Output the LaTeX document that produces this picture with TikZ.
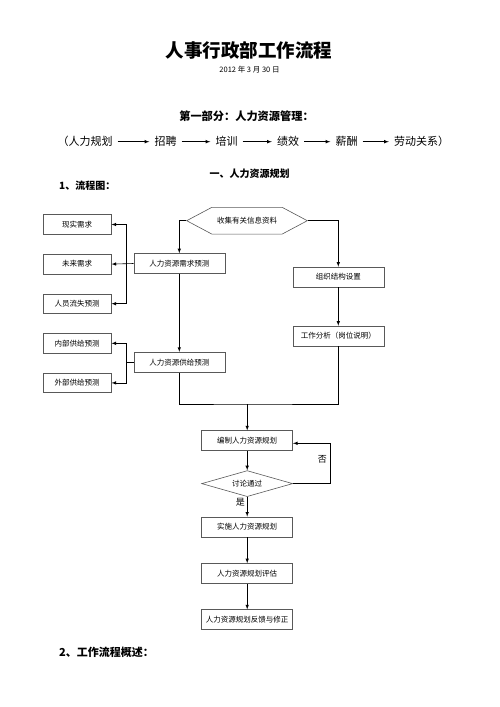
\documentclass[tikz,border=0pt]{standalone}
\usepackage{fontspec}
\setmainfont{Noto Sans CJK SC}
\usetikzlibrary{shapes.geometric, shapes.symbols, arrows, calc, positioning}
\tikzstyle{block} = [rectangle, draw=black!65, line width=0.6pt, minimum width=91pt, minimum height=20pt, inner sep=0pt, text centered, font=\fontsize{7.5}{9}\selectfont]
\tikzstyle{side} = [block, minimum width=68pt, minimum height=19.5pt]
\tikzstyle{decision} = [diamond, draw=black!65, line width=0.6pt, aspect=3.5, minimum width=91pt, minimum height=26pt, inner sep=0pt, font=\fontsize{7.5}{9}\selectfont]
\tikzstyle{start} = [signal, signal to=west and east, signal pointer angle=56, draw=black!65, line width=0.6pt, minimum width=120.6pt, minimum height=26.7pt, inner sep=0pt, font=\fontsize{7.5}{9}\selectfont]
\tikzstyle{stage} = [inner xsep=5pt, inner ysep=2pt, font=\fontsize{11}{13}\selectfont]
\tikzstyle{arrow} = [line width=0.6pt,->,>=latex]
\tikzstyle{line} = [line width=0.6pt]
\begin{document}
\begin{tikzpicture}[x=1pt, y=-1pt, node distance = 20pt, auto]
	\useasboundingbox (0,0) rectangle (500,707);
	% heading
	\node (Title) at (249,50) {\fontsize{18.5}{20}\selectfont\bfseries 人事行政部工作流程};
	\node (Date) at (249.5,69.3) {\fontsize{7.5}{9}\selectfont 2012 年 3 月 30 日};
	\node (Part) at (246.5,116) {\fontsize{11.2}{13}\selectfont\bfseries 第一部分：人力资源管理：};
	\node (Planning) [stage] at (85,141.7) {（人力规划};
	\node (Recruit) [stage] at (165.5,141.7) {招聘};
	\node (Training) [stage] at (226.5,141.7) {培训};
	\node (Perform) [stage] at (288,141.7) {绩效};
	\node (Salary) [stage] at (346.5,141.7) {薪酬};
	\node (Labor) [stage] at (421.5,141.7) {劳动关系）};
	\draw [arrow] (Planning) -- (Recruit);
	\draw [arrow] (Recruit) -- (Training);
	\draw [arrow] (Training) -- (Perform);
	\draw [arrow] (Perform) -- (Salary);
	\draw [arrow] (Salary) -- (Labor);
	\node (Section) at (249.5,174) {\fontsize{10}{12}\selectfont\bfseries 一、人力资源规划};
	\node (Chart) [anchor=west, inner sep=0pt] at (59,186) {\fontsize{10}{12}\selectfont\bfseries 1、流程图：};
	% flow chart
	\node (Collect) [start] at (247,220.7) {收集有关信息资料};
	\node (Demand) [block] at (179.3,263.5) {人力资源需求预测};
	\node (Supply) [block] at (179.3,362.2) {人力资源供给预测};
	\node (Structure) [block] at (338.3,277) {组织结构设置};
	\node (Analysis) [block] at (338.3,336) {工作分析（岗位说明）};
	\node (Current) [side] at (77.2,224.5) {现实需求};
	\node (Future) [side, below = 19.5pt of Current] {未来需求};
	\node (Loss) [side, below = 19.5pt of Future] {人员流失预测};
	\node (Internal) [side, below = 19.5pt of Loss] {内部供给预测};
	\node (External) [side, below = 19.5pt of Internal] {外部供给预测};
	\node (Compile) [block] at (247.2,440.7) {编制人力资源规划};
	\node (Discuss) [decision, below = 19.3pt of Compile] {讨论通过};
	\node (Implement) [block, below = 19.7pt of Discuss] {实施人力资源规划};
	\node (Evaluate) [block, below = 26pt of Implement] {人力资源规划评估};
	\node (Feedback) [block, below = 25.6pt of Evaluate] {人力资源规划反馈与修正};
	\coordinate (DemandTap) at ($(Demand.west)+(-7.3,0)$);
	\coordinate (SupplyTap) at ($(Supply.west)+(-7.3,0)$);
	\coordinate (Merge) at (247.2,404);
	\draw [arrow] (Collect.west) -| (Demand.north);
	\draw [arrow] (Collect.east) -| (Structure.north);
	\draw [arrow] (Demand) -- (Supply);
	\draw [arrow] (Structure) -- (Analysis);
	\draw [arrow] (Demand.west) -- (Future.east);
	\draw [arrow] (DemandTap) |- (Current.east);
	\draw [arrow] (DemandTap) |- (Loss.east);
	\draw [line] (Supply.west) -- (SupplyTap);
	\draw [arrow] (SupplyTap) |- (Internal.east);
	\draw [arrow] (SupplyTap) |- (External.east);
	\draw [line] (Supply.south) |- (Merge) -| (Analysis.south);
	\draw [arrow] (Merge) -- (Compile);
	\draw [arrow] (Compile) -- (Discuss);
	\draw [arrow] (Discuss.east) -- ++(37.6,0) |- node[pos=0.3, left, font=\fontsize{9}{11}\selectfont]{否} ($(Compile.east)+(0,2.6)$);
	\draw [arrow] (Discuss) -- node[pos=0.25, left, inner sep=2pt, font=\fontsize{9}{11}\selectfont]{是} (Implement);
	\draw [arrow] (Implement) -- (Evaluate);
	\draw [arrow] (Evaluate) -- (Feedback);
	\node (Summary) [anchor=west, inner sep=0pt] at (59,652) {\fontsize{11}{13}\selectfont\bfseries 2、工作流程概述：};
\end{tikzpicture}
\end{document}
